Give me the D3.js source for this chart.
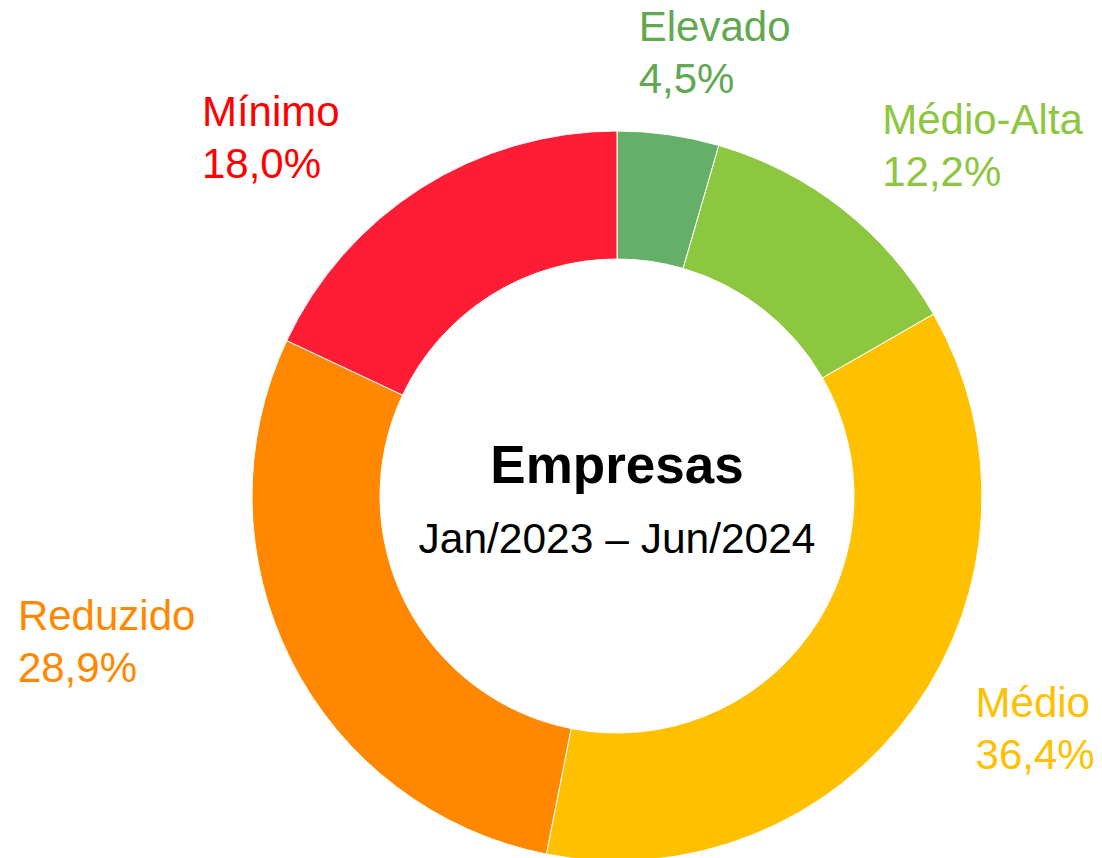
<!DOCTYPE html>
<html>
<head>
<meta charset="utf-8">
<script src="https://cdn.jsdelivr.net/npm/d3@7"></script>
<style>
  html, body { margin: 0; padding: 0; background: #fff; }
  svg { display: block; font-family: "Liberation Sans", Arial, sans-serif; }
</style>
</head>
<body>
<div id="chart"></div>
<script>
// data, clockwise from 12 o'clock
const categories = ['Elevado', 'Médio-Alta', 'Médio', 'Reduzido', 'Mínimo'];
const shares = [4.5, 12.2, 36.4, 28.9, 18.0];
const sliceColors = ['#66AF68', '#8DC63F', '#FFC000', '#FF8800', '#FF1C35'];
const labelColors = ['#61A851', '#8DC63F', '#FFC000', '#FF8800', '#FF0000'];
const title = 'Empresas';
const subtitle = 'Jan/2023 \u2013 Jun/2024';

// layout
const W = 1102, H = 858;
const cx = 617, cy = 496;
const rOuter = 365, rInner = 237;
const rLabel = 480;
// manual label nudges (like dragging labels in the original)
const labelNudge = [[30, 31], [69, 26], [28, -48], [-82, -72], [-89, 46]];

const fmt = v => d3.format('.1f')(v).replace('.', ',') + '%';

const svg = d3.select('#chart').append('svg')
  .attr('width', W)
  .attr('height', H);

const g = svg.append('g').attr('transform', `translate(${cx},${cy})`);

const pie = d3.pie().sort(null).value(d => d.v);
const arcs = pie(categories.map((c, i) => ({ c, v: shares[i], i })));

const arc = d3.arc().innerRadius(rInner).outerRadius(rOuter);
const labelArc = d3.arc().innerRadius(rLabel).outerRadius(rLabel);

g.selectAll('.slice')
  .data(arcs)
  .enter().append('path')
  .attr('class', 'slice')
  .attr('d', arc)
  .attr('fill', d => sliceColors[d.data.i])
  .attr('stroke', '#fff')
  .attr('stroke-width', 1);

// labels: two left-aligned lines centred on the label point
const fs = 42, lh = 52;
const labels = g.selectAll('.lbl')
  .data(arcs)
  .enter().append('text')
  .attr('class', 'lbl')
  .attr('font-size', fs)
  .attr('fill', d => labelColors[d.data.i]);

labels.append('tspan').attr('class', 'l1').text(d => d.data.c);
labels.append('tspan').attr('class', 'l2').text(d => fmt(d.data.v));

labels.each(function(d) {
  const t = d3.select(this);
  const w = Math.max(
    t.select('.l1').node().getComputedTextLength(),
    t.select('.l2').node().getComputedTextLength());
  const c = labelArc.centroid(d);
  const n = labelNudge[d.data.i];
  const x = c[0] + n[0] - w / 2;
  const capH = fs * 0.716;
  const blockH = capH + lh;
  const y1 = c[1] + n[1] - blockH / 2 + capH;
  t.select('.l1').attr('x', x).attr('y', y1);
  t.select('.l2').attr('x', x).attr('y', y1 + lh);
});

// centre text
g.append('text')
  .attr('text-anchor', 'middle')
  .attr('y', -13)
  .attr('font-size', 53)
  .attr('font-weight', 'bold')
  .attr('fill', '#000')
  .text(title);

g.append('text')
  .attr('text-anchor', 'middle')
  .attr('y', 57)
  .attr('font-size', 42.5)
  .attr('fill', '#000')
  .text(subtitle);
</script>
</body>
</html>
